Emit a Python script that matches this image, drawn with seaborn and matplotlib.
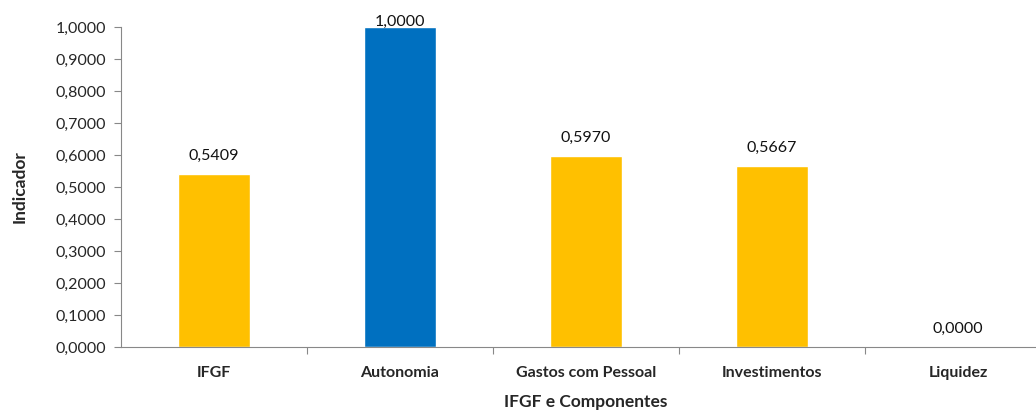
import matplotlib
matplotlib.use("Agg")
import matplotlib.pyplot as plt
import seaborn as sns
import pandas as pd
import numpy as np
from matplotlib.ticker import FixedLocator, FuncFormatter

categories = ["IFGF", "Autonomia", "Gastos com Pessoal", "Investimentos", "Liquidez"]
values = [0.5409, 1.0000, 0.5970, 0.5667, 0.0000]
colors = ["#FFC000", "#0070C0", "#FFC000", "#FFC000", "#FFC000"]

sns.set_theme(style="white")
plt.rcParams['font.family'] = ['Lato', 'DejaVu Sans']

df = pd.DataFrame({"cat": categories, "val": values})

fig = plt.figure(figsize=(10.36, 4.11), dpi=100)
ax = fig.add_axes([121/1036, 64/411, 930/1036, 320/411])

sns.barplot(data=df, x="cat", y="val", hue="cat", palette=colors, legend=False,
            width=0.39, ax=ax, saturation=1)

ax.set_xlim(-0.5, len(categories) - 0.5)
ax.set_ylim(0, 1.0)
ax.set_yticks(np.arange(0, 1.0001, 0.1))
ax.yaxis.set_major_formatter(FuncFormatter(lambda v, p: f"{v:.4f}".replace(".", ",")))
ax.tick_params(axis="y", labelsize=11.5, length=5, width=0.8, color="#888888", direction="out", left=True, pad=6)

ax.set_xticks(range(len(categories)))
ax.set_xticklabels(categories, fontweight="bold", fontsize=11.5)
ax.tick_params(axis="x", which="major", length=0, pad=14)
ax.xaxis.set_minor_locator(FixedLocator(np.arange(0.5, len(categories) - 0.5, 1)))
ax.tick_params(axis="x", which="minor", length=5, width=0.8, color="#888888", direction="out", bottom=True)

for s in ["top", "right"]:
    ax.spines[s].set_visible(False)
for s in ["left", "bottom"]:
    ax.spines[s].set_color("#888888")
    ax.spines[s].set_linewidth(0.8)

ax.set_ylabel("Indicador", fontweight="bold", fontsize=12.5, labelpad=20)
ax.set_xlabel("IFGF e Componentes", fontweight="bold", fontsize=12.5, labelpad=10)

for i, v in enumerate(values):
    off = 13 if v < 0.95 else 4
    ax.annotate(f"{v:.4f}".replace(".", ","), (i, v), xytext=(0, off), textcoords="offset points",
                ha="center", va="center", fontsize=11.5, color="#111111", annotation_clip=False)

fig.savefig("out.png", dpi=100)
